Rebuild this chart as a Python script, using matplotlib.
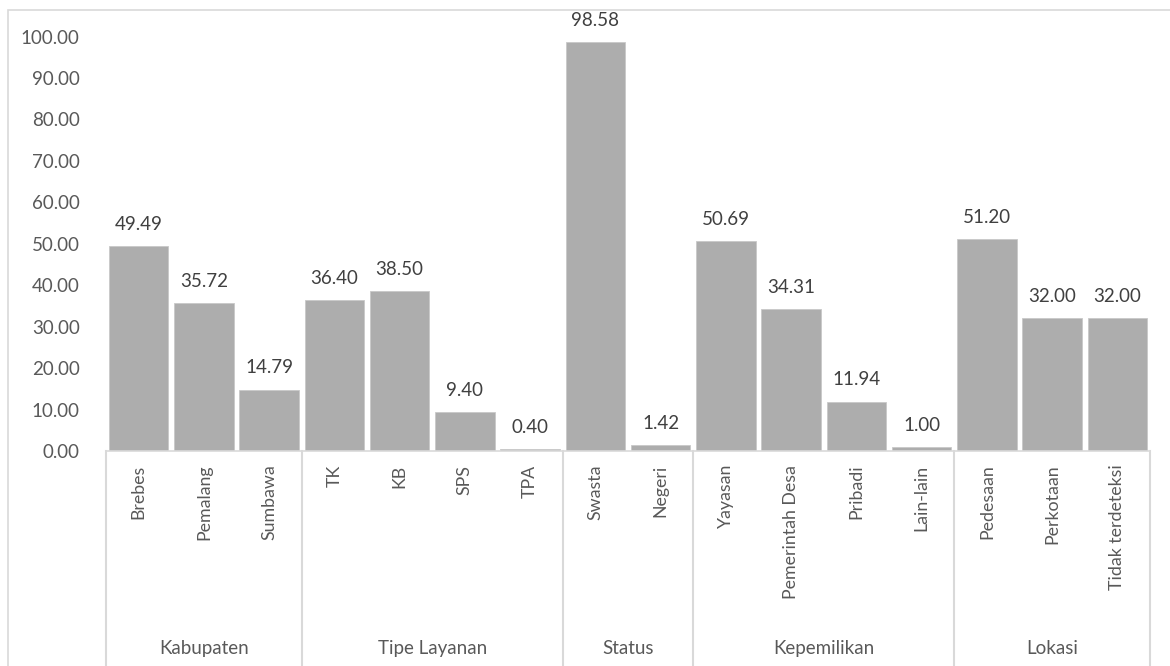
import matplotlib.pyplot as plt
from matplotlib.patches import Rectangle
from matplotlib.transforms import blended_transform_factory
import numpy as np

plt.rcParams['font.family'] = ['Lato', 'DejaVu Sans']

# Sub-categories, grouped by the second-level label
groups = ['Kabupaten', 'Tipe Layanan', 'Status', 'Kepemilikan', 'Lokasi']
group_sizes = [3, 4, 2, 4, 3]
categories = ['Brebes', 'Pemalang', 'Sumbawa',
              'TK', 'KB', 'SPS', 'TPA',
              'Swasta', 'Negeri',
              'Yayasan', 'Pemerintah Desa', 'Pribadi', 'Lain-lain',
              'Pedesaan', 'Perkotaan', 'Tidak terdeteksi']
values = [49.49, 35.72, 14.79,
          36.40, 38.50, 9.40, 0.40,
          98.58, 1.42,
          50.69, 34.31, 11.94, 1.00,
          51.20, 32.00, 32.00]

bar_color = '#ADADAD'
text_color = '#595959'
line_color = '#D9D9D9'

fig = plt.figure(figsize=(11.7, 6.66), dpi=100)
ax = fig.add_axes([106 / 1170, 1 - 451 / 666, (1150 - 106) / 1170, (451 - 36.5) / 666])

x = np.arange(len(categories))
bars = ax.bar(x, values, width=0.91, color=bar_color, edgecolor='#C8C8C8', linewidth=0.6)

# Value labels above each bar
for xi, v in zip(x, values):
    ax.text(xi, v + 3.2, f'{v:.2f}', ha='center', va='bottom',
            fontsize=13.5, color='#404040', clip_on=False)

ax.set_xlim(-0.5, len(categories) - 0.5)
ax.set_ylim(0, 100)
ax.set_yticks(np.arange(0, 101, 10))
ax.set_yticklabels([f'{t:.2f}' for t in np.arange(0, 101, 10)])
ax.tick_params(axis='y', length=0, pad=19, labelsize=13.5, labelcolor=text_color)
ax.set_xticks([])

for side in ['top', 'right', 'left']:
    ax.spines[side].set_visible(False)
ax.spines['bottom'].set_color(line_color)
ax.spines['bottom'].set_linewidth(1.2)

# Rotated category labels under the axis
trans = blended_transform_factory(ax.transData, ax.transAxes)
for xi, name in zip(x, categories):
    ax.text(xi, -0.033, name, rotation=90, ha='center', va='top',
            fontsize=12.8, color=text_color, transform=trans)

# Group separators and group names
edges = np.concatenate([[0], np.cumsum(group_sizes)]) - 0.5
for e in edges:
    ax.plot([e, e], [0, -0.62], color=line_color, lw=1.5,
            transform=trans, clip_on=False)
for g, lo, hi in zip(groups, edges[:-1], edges[1:]):
    ax.text((lo + hi) / 2, -0.476, g, ha='center', va='center',
            fontsize=13.5, color=text_color, transform=trans)

# Light frame around the chart area
fig.add_artist(Rectangle((8 / 1170, -0.1), 1.2, 1.1 - 9.5 / 666,
                         transform=fig.transFigure, fill=False,
                         edgecolor=line_color, lw=1.2))

fig.savefig('out.png', dpi=100)
